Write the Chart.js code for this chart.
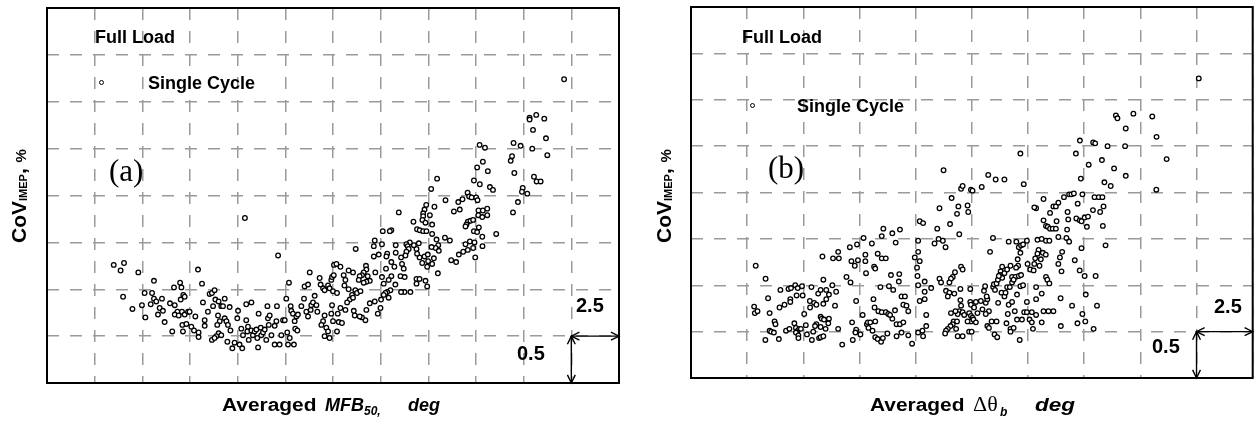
<!DOCTYPE html>
<html>
<head>
<meta charset="utf-8">
<title>CoV IMEP vs averaged MFB50 and burn duration</title>
<script src="https://cdn.jsdelivr.net/npm/chart.js"></script>
<style>
  body { margin: 0; width: 1258px; height: 423px; overflow: hidden; position: relative; background: #fff;
         font-family: "Liberation Sans", Arial, sans-serif; color: #000; }
  canvas { position: absolute; top: 0; }
  #chartA { left: 0; }
  #chartB { left: 630px; }
  .txt { position: absolute; white-space: nowrap; line-height: 1; font-weight: bold; }
  .note { font-size: 18px; }
  .tag { font-family: "Liberation Serif", "Times New Roman", serif; font-weight: normal; font-size: 31px; }
  .step { font-size: 20px; }
  .xt { font-size: 18px; }
  .it { font-style: italic; }
  .wide { display: inline-block; transform: scaleX(1.16); transform-origin: 0 0; }
  .greek { font-family: "Liberation Serif", "Times New Roman", serif; font-weight: normal; font-size: 22px; }
  .ytitle { font-size: 21px; transform-origin: 0 0; transform: rotate(-90deg); }
  .ytitle .sub { font-size: 11px; vertical-align: -1px; }
  .ytitle .pct { font-size: 15px; }
  .mark { position: absolute; box-sizing: border-box; width: 5px; height: 5px; border: 1.2px solid #000; border-radius: 50%; }
</style>
</head>
<body>
<canvas id="chartA" width="630" height="423"></canvas>
<canvas id="chartB" width="628" height="423"></canvas>

<!-- panel (a) -->
<div class="txt note" style="left:95px;top:28px">Full Load</div>
<span class="mark" style="left:98.5px;top:79.5px"></span>
<div class="txt note" style="left:148px;top:74px">Single Cycle</div>
<div class="txt tag" style="left:109px;top:155px">(a)</div>
<div class="txt step stepX" style="left:576px;top:295px"></div>
<div class="txt step stepY" style="left:517px;top:343px"></div>
<div class="txt ytitle" style="left:8px;top:243px">CoV<span class="sub">IMEP</span>, <span class="pct">%</span></div>
<div class="txt xt" style="left:222px;top:396px"><span class="wide">Averaged</span></div>
<div class="txt xt it" style="left:325px;top:396px">MFB</div>
<div class="txt it" style="left:364px;top:405px;font-size:12px">50,</div>
<div class="txt xt it" style="left:408px;top:396px">deg</div>

<!-- panel (b) -->
<div class="txt note" style="left:742px;top:28px">Full Load</div>
<span class="mark" style="left:749.5px;top:102.5px"></span>
<div class="txt note" style="left:797px;top:97px">Single Cycle</div>
<div class="txt tag" style="left:768px;top:152px">(b)</div>
<div class="txt step stepX" style="left:1214px;top:296px"></div>
<div class="txt step stepY" style="left:1152px;top:336px"></div>
<div class="txt ytitle" style="left:653px;top:243px">CoV<span class="sub">IMEP</span>, <span class="pct">%</span></div>
<div class="txt xt" style="left:870px;top:396px"><span class="wide">Averaged</span></div>
<div class="txt greek" style="left:973px;top:393px">&Delta;&theta;</div>
<div class="txt it" style="left:1000px;top:406px;font-size:12px">b</div>
<div class="txt xt it" style="left:1035px;top:396px"><span class="wide" style="transform:scaleX(1.25)">deg</span></div>

<script>
// grid step of each axis (deg per vertical line, % per horizontal line)
const stepX = 2.5;
const stepY = 0.5;
const covMax = 4;
const mfbMax = 30;
const dThetaMax = 25;

// (a) averaged MFB50 of each cycle group, deg
const mfb50 = [
  3.50,3.86,4.04,3.99,4.79,4.48,5.16,4.98,5.12,5.51,
  5.61,5.44,5.61,5.73,5.82,6.03,5.91,6.08,6.17,6.45,
  6.66,6.70,6.57,6.98,7.05,7.01,7.15,7.22,6.84,6.70,
  6.91,7.08,7.22,7.40,7.48,7.10,7.13,7.31,7.57,7.71,
  7.78,7.92,8.13,8.18,7.95,7.95,8.27,8.27,8.44,8.53,
  8.65,8.79,8.71,8.83,9.00,9.14,9.23,9.32,8.97,9.06,
  8.93,9.00,8.88,9.14,8.65,8.79,9.32,9.41,9.49,9.58,
  9.62,9.46,9.72,9.84,10.02,9.98,10.10,10.24,10.19,10.28,
  10.45,10.45,10.72,10.54,10.51,10.58,10.72,10.80,10.89,10.98,
  11.03,11.07,11.10,11.21,11.24,11.33,11.42,11.50,11.56,11.59,
  11.68,11.63,11.77,11.94,12.03,12.06,12.12,11.94,12.20,12.29,
  12.38,12.47,12.55,12.69,12.78,12.81,12.60,12.73,12.64,12.90,
  12.99,13.08,13.16,13.02,13.13,12.95,13.34,13.48,13.51,13.69,
  13.78,13.60,13.69,13.83,13.86,13.95,14.04,14.13,14.18,14.30,
  14.35,14.48,14.56,14.74,14.82,14.91,14.95,15.00,14.56,14.48,
  14.39,14.65,14.74,14.82,14.56,14.95,14.91,15.00,15.05,10.38,
  27.12,25.31,25.31,25.66,26.08,25.49,26.17,25.45,26.24,24.47,
  24.84,24.39,24.32,24.51,25.54,25.68,25.89,24.95,24.91,25.19,
  24.70,24.44,22.69,22.97,22.56,22.86,23.12,22.39,22.70,23.23,
  23.39,22.06,22.14,22.27,22.51,22.58,21.57,21.79,21.34,21.65,
  22.63,22.86,23.09,22.62,22.83,23.09,22.07,22.21,22.35,22.00,
  21.95,22.65,22.39,22.56,23.56,22.83,20.87,21.13,21.95,22.18,
  22.42,22.07,21.83,22.35,21.60,22.84,21.20,21.46,22.46,20.46,
  20.15,20.90,20.32,19.89,19.80,19.73,20.08,19.73,19.69,19.85,
  20.20,19.22,19.41,19.55,19.73,19.90,20.20,20.43,20.52,20.38,
  20.55,20.17,20.29,20.50,20.20,19.99,19.94,19.68,19.80,19.97,
  19.54,19.41,19.38,19.24,19.50,19.03,18.85,18.92,18.97,18.85,
  18.80,18.57,18.45,18.06,18.29,18.29,17.98,17.61,17.57,17.19,
  17.14,17.40,17.14,17.84,17.80,18.06,18.22,17.78,18.06,18.54,
  18.76,18.62,18.71,18.27,19.38,19.54,19.85,19.94,19.38,19.06,
  18.75,18.57,17.57,17.66,17.92,18.01,17.84,17.92,17.75,17.66,
  17.52,17.49,17.35,17.19,16.93,16.75,16.70,16.52,16.40,16.14,
  16.09,16.19,17.22,16.73,16.75,16.61,16.52,16.40,16.82,16.93,
  16.75,16.61,16.35,16.05,15.82,15.56,15.65,15.39,15.18,15.04,
  15.60,15.82,16.17,16.26,16.44,16.00,15.88,15.74,16.05,15.65,
  15.39,15.25,15.30,15.47,15.21,15.21
];
// (a) CoV of IMEP, %
const covA = [
  1.26,1.20,1.28,0.92,1.18,0.79,0.70,0.83,0.96,0.96,
  1.09,0.84,0.90,0.87,0.73,0.90,0.80,0.77,0.65,0.85,
  1.02,0.83,0.55,1.07,1.02,0.89,0.94,0.92,0.76,0.73,
  0.72,0.76,0.73,0.76,0.76,0.62,0.55,0.63,0.60,0.56,
  0.71,1.21,1.06,0.86,0.54,0.49,0.67,0.61,0.76,0.95,
  0.96,0.99,0.82,0.89,0.87,0.82,0.82,0.90,0.72,0.66,
  0.62,0.53,0.50,0.51,0.46,0.48,0.69,0.66,0.62,0.81,
  0.56,0.44,0.37,0.43,0.77,0.69,0.41,0.37,0.58,0.51,
  0.84,0.67,0.86,0.60,0.55,0.46,0.56,0.51,0.55,0.57,
  0.48,0.38,0.74,0.59,0.51,0.54,0.57,0.46,0.82,0.69,
  0.72,0.62,0.51,0.61,0.66,0.82,1.36,0.41,0.41,0.51,
  0.67,0.67,0.90,1.07,0.82,0.77,0.54,0.48,0.41,0.74,
  0.66,0.71,0.73,0.58,0.56,0.41,0.82,0.90,1.03,1.05,
  1.18,0.76,0.71,0.78,0.83,0.86,0.93,0.83,0.76,1.12,
  1.05,1.01,0.99,1.04,1.01,1.10,1.13,0.98,0.72,0.66,
  0.62,0.59,0.55,0.48,0.50,0.83,0.74,0.66,1.26,1.76,
  3.24,2.83,2.81,2.86,2.82,2.70,2.61,2.50,2.43,2.56,
  2.53,2.42,2.37,2.24,2.20,2.15,2.15,2.08,2.04,2.02,
  1.93,1.82,2.54,2.51,2.30,2.36,2.26,2.16,2.12,2.09,
  2.06,2.03,1.99,1.98,1.98,1.95,1.93,1.96,1.83,1.85,
  1.84,1.84,1.86,1.79,1.77,1.79,1.72,1.73,1.74,1.69,
  1.67,1.66,1.62,1.61,1.59,1.56,1.55,1.52,1.48,1.51,
  1.50,1.42,1.40,1.44,1.37,1.46,1.31,1.29,1.34,2.18,
  2.07,1.95,1.88,1.90,1.85,1.81,1.79,1.78,1.74,1.71,
  1.69,1.72,1.64,1.63,1.62,1.62,1.59,1.53,1.47,1.44,
  1.41,1.45,1.33,1.17,1.27,1.30,1.24,1.28,1.35,1.37,
  1.34,1.38,1.43,1.47,1.49,1.50,1.48,1.46,1.43,1.40,
  1.36,1.34,1.82,1.63,1.47,1.39,1.62,1.62,1.48,1.52,
  1.46,1.37,1.35,1.38,1.35,1.29,1.24,1.22,1.14,1.14,
  1.13,1.27,1.22,1.05,1.11,1.11,1.09,1.03,1.06,0.97,
  0.97,0.97,1.13,1.06,1.10,0.99,0.97,0.91,0.96,0.94,
  0.89,0.80,0.74,0.87,0.85,0.78,0.67,0.70,0.71,0.72,
  0.77,1.43,1.18,1.25,1.21,1.18,1.15,1.14,1.14,1.09,
  1.08,1.07,1.10,1.18,1.20,1.15,1.10,1.24,1.27,1.15,
  1.04,1.00,0.99,0.96,0.98,0.94,0.89,0.86,0.91,0.78,
  0.80,0.74,0.65,0.64,0.55,0.96
];

// (b) averaged burn angle delta theta_b, deg
const dTheta = [
  2.88,3.32,2.81,2.84,2.96,3.43,3.50,3.98,4.34,4.45,
  4.64,4.75,4.94,4.70,4.97,4.42,4.42,4.16,3.94,3.72,
  3.76,3.50,3.57,3.69,3.31,3.91,4.23,4.38,4.60,4.67,
  4.75,4.67,4.82,4.78,4.78,4.89,5.04,5.11,5.16,5.38,
  5.30,5.36,5.29,5.48,5.58,5.66,5.77,5.89,6.02,6.14,
  6.02,5.89,5.85,6.32,6.55,6.58,6.29,6.46,6.41,5.77,
  5.82,5.92,6.14,6.11,5.99,5.77,5.58,5.52,5.44,5.70,
  5.77,5.89,6.55,6.73,6.92,7.10,7.07,7.39,7.14,7.29,
  7.43,7.76,7.76,7.79,7.68,8.05,8.15,8.20,8.31,8.49,
  8.67,8.49,8.56,8.96,9.30,9.11,8.90,9.27,9.25,9.00,
  8.81,8.43,7.35,7.17,7.35,7.54,7.32,7.20,7.64,7.83,
  7.87,7.98,8.20,7.90,8.08,8.20,8.31,8.46,8.54,8.74,
  8.17,8.12,8.34,8.49,8.67,8.78,8.96,8.86,9.08,9.15,
  9.30,9.37,9.52,9.45,9.59,9.67,9.37,9.45,9.15,9.67,
  9.84,10.11,10.30,10.33,10.18,10.33,10.11,10.11,10.18,9.96,
  10.06,10.08,10.11,10.40,10.40,10.40,10.18,10.47,10.47,
  11.24,12.02,12.09,12.46,12.53,12.94,13.23,13.56,13.95,14.66,
  14.81,11.60,11.06,11.90,11.84,12.31,12.34,11.53,10.96,11.94,
  11.02,11.21,10.84,11.33,13.44,13.31,14.14,14.48,14.59,14.69,
  14.78,14.95,14.66,14.54,14.56,14.98,15.10,15.25,15.28,15.32,
  12.02,12.09,11.75,11.65,11.57,11.50,11.06,11.13,10.69,11.35,
  11.50,11.72,11.43,11.99,12.43,11.99,12.02,11.94,12.09,12.43,
  12.46,12.38,12.46,12.53,12.46,12.57,12.31,12.16,11.87,11.77,
  11.57,11.69,11.84,11.65,11.55,11.43,11.35,11.31,11.80,11.87,
  12.09,12.38,12.49,12.68,12.75,12.90,12.68,12.60,12.97,13.12,
  13.19,13.26,13.12,13.04,13.09,13.16,13.19,13.26,13.38,13.51,
  13.63,13.60,13.67,13.45,13.48,13.53,13.60,13.66,13.78,13.85,
  13.75,13.85,13.95,14.07,14.22,14.29,14.44,14.59,14.69,14.47,
  13.70,13.82,13.95,14.00,14.07,14.19,14.29,14.36,14.51,14.66,
  14.78,14.95,14.14,14.10,14.41,14.29,14.04,14.22,14.36,14.22,
  14.51,14.73,14.83,14.95,15.17,15.07,15.36,15.17,15.22,15.61,
  15.69,15.91,16.13,15.36,15.36,15.61,15.80,15.86,15.95,14.63,
  15.36,15.28,15.69,15.80,15.88,15.98,16.10,16.24,16.27,15.98,
  16.13,16.24,16.35,15.69,16.60,16.83,16.93,17.04,17.21,17.42,
  16.76,16.79,17.15,17.30,17.38,17.52,17.67,17.62,16.35,16.74,
  16.71,16.83,16.42,16.35,16.52,17.08,15.42,15.61,15.80,15.95,
  15.47,15.66,15.79,15.42,15.57,15.51,16.49,17.30,17.52,18.01,
  16.45,16.96,17.42,17.55,17.20,16.46,17.92,18.07,17.57,18.45,
  17.38,17.70,17.13,17.35,17.96,18.15,18.21,17.89,18.29,18.40,
  18.33,22.60,18.91,18.98,19.69,20.53,19.35,20.72,21.17,19.35,
  20.71,18.54,19.32,18.83,18.68,18.36,18.31,17.90,17.99,17.31
];
// (b) CoV of IMEP, %
const covB = [
  1.21,1.07,0.77,0.70,0.72,0.86,0.70,0.95,0.96,0.97,
  1.00,0.97,0.99,0.89,0.89,0.85,0.82,0.79,0.76,0.61,
  0.58,0.51,0.50,0.49,0.41,0.42,0.51,0.53,0.59,0.54,
  0.51,0.49,0.53,0.46,0.43,0.53,0.69,0.57,0.47,0.41,
  0.76,0.98,0.83,0.81,0.79,0.91,0.95,1.06,0.95,0.90,
  0.85,0.80,1.31,1.29,1.36,1.29,1.00,0.93,0.78,0.66,
  0.64,0.63,0.64,0.59,0.53,0.55,0.58,0.56,0.50,0.43,
  0.44,0.45,0.53,0.36,1.09,1.03,1.41,1.44,1.26,1.21,
  1.27,1.33,1.26,1.13,1.51,1.45,1.20,1.18,1.34,1.29,
  1.29,1.53,1.61,1.56,1.60,1.46,1.11,1.12,1.04,0.95,
  0.99,0.98,0.83,0.60,0.52,0.47,0.49,0.41,0.68,0.58,
  0.60,0.60,0.61,0.54,0.51,0.44,0.42,0.39,0.43,0.48,
  0.76,0.85,0.72,0.71,0.71,0.69,0.64,0.68,0.73,0.58,
  0.58,0.88,0.88,0.79,0.78,0.72,0.49,0.60,0.45,0.46,
  0.37,0.49,0.51,0.45,1.69,1.67,1.48,1.36,1.26,1.30,
  1.19,1.10,1.00,1.04,0.93,0.85,0.83,0.68,0.56,
  2.24,2.04,2.07,2.03,2.02,2.06,2.19,2.14,2.14,2.42,
  2.09,1.94,1.83,1.85,1.77,1.86,1.79,1.66,1.61,1.55,
  1.50,1.48,1.45,1.41,1.51,1.36,1.47,1.47,1.41,1.43,
  1.44,1.48,1.35,1.28,1.21,1.23,1.17,1.16,1.23,1.29,
  1.20,1.17,1.14,1.09,1.07,1.03,1.07,1.03,0.97,0.94,
  0.92,0.91,0.88,0.96,0.96,0.84,0.78,0.72,0.71,0.82,
  0.79,0.70,0.67,0.65,0.61,0.63,0.61,0.68,0.69,0.72,
  0.70,0.61,0.61,0.58,0.56,0.53,0.51,0.48,0.53,0.45,
  0.45,0.50,0.50,0.60,0.70,0.83,0.82,0.76,0.74,0.81,
  0.85,0.72,0.69,0.94,0.99,0.88,0.56,0.54,0.61,0.47,
  0.44,0.61,0.81,0.98,1.01,0.95,1.02,1.06,1.15,1.20,
  1.11,1.08,1.13,1.17,1.21,1.09,1.09,1.10,1.11,1.19,
  1.10,0.92,0.88,0.92,0.98,0.98,1.03,1.06,0.90,0.99,
  1.00,0.82,0.79,0.69,0.72,0.82,0.59,0.53,0.54,0.50,
  0.63,0.63,0.71,0.71,0.71,0.63,0.68,0.60,0.53,0.60,
  0.72,0.72,0.72,0.85,0.98,0.91,1.09,1.06,1.02,0.41,
  1.83,1.84,1.70,1.64,1.63,1.61,1.61,1.61,1.69,1.78,
  1.85,1.85,1.89,1.93,1.95,1.98,1.98,1.99,1.88,1.98,
  1.79,1.71,1.72,1.70,1.69,1.73,1.74,1.63,1.52,1.60,
  1.51,1.47,1.30,1.23,1.36,1.27,1.49,1.50,1.48,1.48,
  1.38,1.35,1.33,1.34,1.28,1.21,1.15,1.16,1.10,1.10,
  0.86,0.78,0.69,0.61,0.59,0.56,0.53,0.78,0.90,1.43,
  1.40,2.30,2.42,2.15,1.95,1.95,1.79,1.81,2.35,2.11,
  1.64,3.23,2.83,2.80,2.85,2.82,2.69,2.60,2.36,2.18,
  2.03,2.50,2.50,2.26,2.07,1.85,1.95,2.54,2.53,2.56
];

document.querySelectorAll('.stepX').forEach(el => { el.textContent = String(stepX); });
document.querySelectorAll('.stepY').forEach(el => { el.textContent = String(stepY); });

function arrowHead(ctx, fromX, fromY, toX, toY) {
  const ang = Math.atan2(toY - fromY, toX - fromX);
  const len = 9, spread = 0.45;
  ctx.beginPath();
  ctx.moveTo(toX - len * Math.cos(ang - spread), toY - len * Math.sin(ang - spread));
  ctx.lineTo(toX, toY);
  ctx.lineTo(toX - len * Math.cos(ang + spread), toY - len * Math.sin(ang + spread));
  ctx.stroke();
}

// black frame round the plot + the one-cell scale bar in the lower right corner
const frameAndScaleBar = {
  id: 'frameAndScaleBar',
  afterDraw(chart) {
    const { ctx, chartArea: a, scales: { x, y } } = chart;
    ctx.save();
    ctx.strokeStyle = '#000';
    ctx.lineWidth = 2;
    ctx.strokeRect(a.left, a.top, a.right - a.left, a.bottom - a.top);

    const xl = x.getPixelForValue(x.max - stepX);
    const xr = x.getPixelForValue(x.max);
    const yt = y.getPixelForValue(stepY);
    const yb = y.getPixelForValue(0);
    ctx.lineWidth = 1.4;
    ctx.beginPath();
    ctx.moveTo(xl, yt); ctx.lineTo(xr, yt);
    ctx.moveTo(xl, yt); ctx.lineTo(xl, yb);
    ctx.stroke();
    arrowHead(ctx, xr, yt, xl, yt);
    arrowHead(ctx, xl, yt, xr, yt);
    arrowHead(ctx, xl, yb, xl, yt);
    arrowHead(ctx, xl, yt, xl, yb);
    ctx.restore();
  }
};

function axis(max, step) {
  return {
    type: 'linear', min: 0, max: max,
    ticks: { display: false, stepSize: step },
    grid: { color: '#9a9a9a', lineWidth: 1.5, drawTicks: false },
    border: { display: false, dash: [12, 11] }
  };
}

function buildChart(id, xs, ys, xMax, padding) {
  return new Chart(document.getElementById(id), {
    type: 'scatter',
    data: {
      datasets: [{
        label: 'Single Cycle',
        data: xs.map((v, i) => ({ x: v, y: ys[i] })),
        pointRadius: 2.3,
        pointBorderWidth: 1.3,
        pointBorderColor: '#000',
        pointBackgroundColor: '#fff'
      }]
    },
    options: {
      responsive: false,
      animation: false,
      events: [],
      layout: { padding: padding },
      plugins: { legend: { display: false }, tooltip: { enabled: false } },
      scales: { x: axis(xMax, stepX), y: axis(covMax, stepY) }
    },
    plugins: [frameAndScaleBar]
  });
}

buildChart('chartA', mfb50, covA, mfbMax, { left: 47, top: 8, right: 11, bottom: 40 });
buildChart('chartB', dTheta, covB, dThetaMax, { left: 61, top: 7, right: 1, bottom: 45 });
</script>
</body>
</html>
